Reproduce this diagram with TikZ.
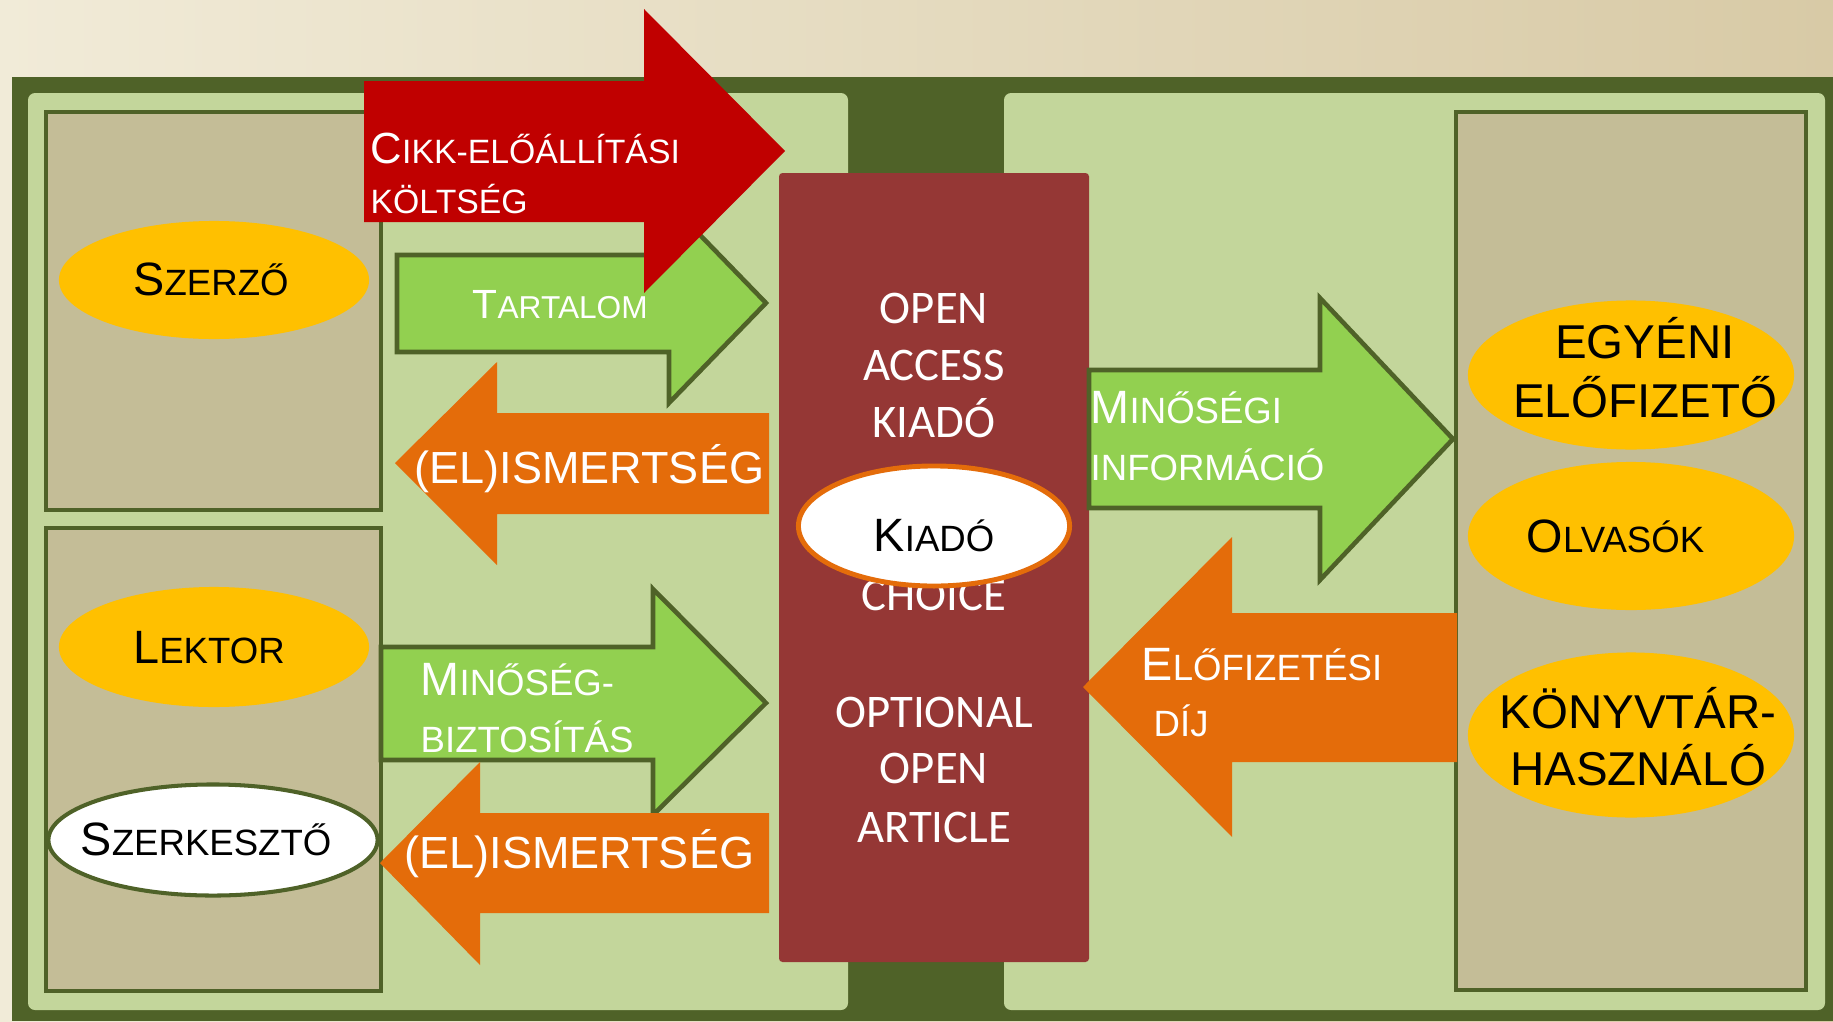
\documentclass[tikz,border=0pt]{standalone}
\usepackage{fontspec}
\setmainfont{Liberation Sans}
\newfontfamily\carlito{Carlito}
\usetikzlibrary{shapes.geometric}

\definecolor{hatterbal}{HTML}{F1EBD8}
\definecolor{hatterjobb}{HTML}{D8CAA6}
\definecolor{sotetzold}{HTML}{4F6228}
\definecolor{vilagoszold}{HTML}{C3D69B}
\definecolor{barna}{HTML}{C4BD97}
\definecolor{bordo}{HTML}{953735}
\definecolor{piros}{HTML}{C00000}
\definecolor{narancs}{HTML}{E46C0A}
\definecolor{zold}{HTML}{92D050}
\definecolor{sarga}{HTML}{FFC000}

\newcommand{\nagy}{\fontsize{13.3}{16.2}\selectfont}
\newcommand{\kicsi}{\fontsize{10.4}{16.2}\selectfont}
\newcommand{\kiskap}[2]{{\nagy #1}{\kicsi #2}}
\newcommand{\csupa}{\fontsize{13.5}{16.4}\selectfont}

\begin{document}
\begin{tikzpicture}[x=0.01cm, y=-0.01cm,
    keret/.style={draw=sotetzold, line width=1.15pt, fill=barna},
    zoldnyil/.style={fill=zold, draw=sotetzold, line width=1.3pt},
    szereplo/.style={ellipse, fill=sarga, inner sep=0pt},
    ellszoveg/.style={inner sep=0pt, text=black, text height=0pt, text depth=0pt},
    felirat/.style={text=white, inner sep=0pt, anchor=base west},
    dobozfelirat/.style={text=white, inner sep=0pt, anchor=base, font=\carlito\fontsize{13.3}{16}\selectfont},
]
    \useasboundingbox (0,0) rectangle (1833,1021);
    % hatter es keretek
    \shade[left color=hatterbal, right color=hatterjobb] (0,0) rectangle (1833,1021);
    \fill[sotetzold] (12,77) rectangle (1833,1021);
    \fill[vilagoszold, rounded corners=2] (28,93) rectangle (848,1010);
    \fill[vilagoszold, rounded corners=2] (1004,93) rectangle (1825,1010);
    \draw[keret] (46,112) rectangle (381,510);
    \draw[keret] (46,528) rectangle (381,991);
    \draw[keret] (1456,112) rectangle (1806,990);

    % kiado doboz
    \fill[bordo, rounded corners=1] (779,173) rectangle (1089,962);
    \node[dobozfelirat] (open1) at (934,323) {OPEN};
    \node[dobozfelirat] (access) at (934,380) {ACCESS};
    \node[dobozfelirat] (kiado1) at (934,437) {KIADÓ};
    \node[dobozfelirat] (choice) at (934,610) {CHOICE};
    \node[dobozfelirat] (optional) at (934,727) {OPTIONAL};
    \node[dobozfelirat] (open2) at (934,783) {OPEN};
    \node[dobozfelirat] (article) at (934,842) {ARTICLE};

    % nyilak
    \draw[zoldnyil] (397,255) -- (669,255) -- (669,203) -- (766,303) -- (669,403) -- (669,352) -- (397,352) -- cycle;
    \draw[zoldnyil] (381,647) -- (653,647) -- (653,589) -- (766,703) -- (653,815) -- (653,760) -- (381,760) -- cycle;
    \draw[zoldnyil] (1089,370) -- (1320,370) -- (1320,298) -- (1453,439) -- (1320,580) -- (1320,508) -- (1089,508) -- cycle;
    \fill[narancs] (769,413) -- (497,413) -- (497,362) -- (395,463) -- (497,565) -- (497,514) -- (769,514) -- cycle;
    \fill[narancs] (769,813) -- (480,813) -- (480,762) -- (380,863) -- (480,965) -- (480,913) -- (769,913) -- cycle;
    \fill[narancs] (1457,613) -- (1232,613) -- (1232,537) -- (1083,687) -- (1232,837) -- (1232,762) -- (1457,762) -- cycle;
    \fill[piros] (364,81) -- (644,81) -- (644,9) -- (785,151) -- (644,293) -- (644,222) -- (364,222) -- cycle;

    % szereplok
    \node[szereplo, minimum width=3.10cm, minimum height=1.18cm,
        label={[ellszoveg, xshift=-0.03cm, yshift=-0.15cm]center:\kiskap{S}{ZERZŐ}}] (szerzo) at (214,280) {};
    \node[szereplo, minimum width=3.10cm, minimum height=1.20cm,
        label={[ellszoveg, xshift=-0.05cm, yshift=-0.16cm]center:\kiskap{L}{EKTOR}}] (lektor) at (214,647) {};
    \node[szereplo, fill=white, draw=sotetzold, line width=1.15pt, minimum width=3.29cm, minimum height=1.11cm,
        label={[ellszoveg, xshift=-0.07cm, yshift=-0.15cm]center:\kiskap{S}{ZERKESZTŐ}}] (szerkeszto) at (213,840) {};
    \node[szereplo, minimum width=3.26cm, minimum height=1.49cm,
        label={[ellszoveg, font=\csupa, xshift=0.14cm, yshift=0.16cm]center:EGYÉNI},
        label={[ellszoveg, font=\csupa, xshift=0.14cm, yshift=-0.42cm]center:ELŐFIZETŐ}] (egyeni) at (1631,375) {};
    \node[szereplo, minimum width=3.26cm, minimum height=1.48cm,
        label={[ellszoveg, xshift=-0.155cm, yshift=-0.16cm]center:\kiskap{O}{LVASÓK}}] (olvasok) at (1631,536) {};
    \node[szereplo, minimum width=3.26cm, minimum height=1.65cm,
        label={[ellszoveg, font=\csupa, xshift=0.07cm, yshift=0.07cm]center:KÖNYVTÁR-},
        label={[ellszoveg, font=\csupa, xshift=0.07cm, yshift=-0.50cm]center:HASZNÁLÓ}] (konyvtar) at (1631,735) {};
    \node[ellipse, fill=white, draw=narancs, line width=1.4pt, inner sep=0pt, minimum width=2.71cm, minimum height=1.20cm,
        label={[ellszoveg, yshift=-0.25cm]center:\kiskap{K}{IADÓ}}] (kiado) at (934,526) {};

    % nyilak feliratai
    \node[felirat] (cikk1) at (370,163) {{\fontsize{12.4}{14}\selectfont C}{\fontsize{9.6}{14}\selectfont IKK-ELŐÁLLÍTÁSI}};
    \node[felirat] (cikk2) at (370,213) {\fontsize{9.6}{14}\selectfont KÖLTSÉG};
    \node[felirat] (tartalom) at (472,318) {{\fontsize{11.6}{14}\selectfont T}{\fontsize{9}{14}\selectfont ARTALOM}};
    \node[felirat] (elism1) at (414,483) {\fontsize{12.8}{15}\selectfont (EL)ISMERTSÉG};
    \node[felirat] (minbizt1) at (420,695) {\kiskap{M}{INŐSÉG-}};
    \node[felirat] (minbizt2) at (420,752) {\kicsi BIZTOSÍTÁS};
    \node[felirat] (elism2) at (404,868) {\fontsize{12.8}{15}\selectfont (EL)ISMERTSÉG};
    \node[felirat] (mininf1) at (1090,423) {\kiskap{M}{INŐSÉGI}};
    \node[felirat] (mininf2) at (1090,480) {\kicsi INFORMÁCIÓ};
    \node[felirat] (elofiz1) at (1141,680) {\kiskap{E}{LŐFIZETÉSI}};
    \node[felirat] (elofiz2) at (1153,736) {\kicsi DÍJ};
\end{tikzpicture}
\end{document}
